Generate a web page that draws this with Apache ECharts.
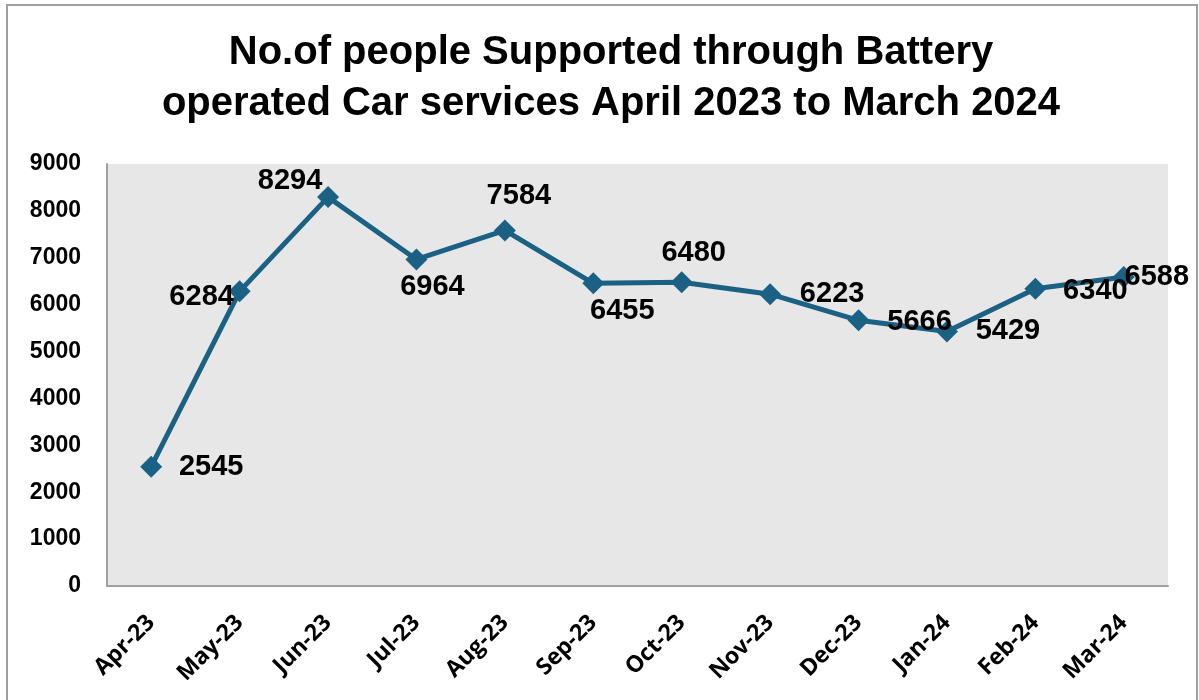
<!DOCTYPE html>
<html>
<head>
<meta charset="utf-8">
<title>Battery operated Car services</title>
<script src="https://cdn.jsdelivr.net/npm/echarts@6/dist/echarts.min.js"></script>
<style>
  html, body { margin: 0; padding: 0; background: #ffffff; }
  #chart { width: 1199px; height: 700px; }
</style>
</head>
<body>
<div id="chart"></div>
<script>
// Monthly counts of people supported by the battery operated car service
const months = ['Apr-23', 'May-23', 'Jun-23', 'Jul-23', 'Aug-23', 'Sep-23',
                'Oct-23', 'Nov-23', 'Dec-23', 'Jan-24', 'Feb-24', 'Mar-24'];
const peopleSupported = [2545, 6284, 8294, 6964, 7584, 6455, 6480, 6223, 5666, 5429, 6340, 6588];
const titleLines = ['No.of people Supported through Battery',
                    'operated Car services April 2023 to March 2024'];
const yAxisMin = 0;
const yAxisMax = 9000;
const yAxisStep = 1000;

// Where each value label sits relative to its marker (px)
const labelShift = [[60, 0], [-38, 6], [-38, -16], [16, 28], [14, -34], [29, 28],
                    [12, -29], [62, 0], [61, 2], [61, 0], [60, 2], [33, 0]];

const lineColor = '#1a6184';

const chart = echarts.init(document.getElementById('chart'), null, { renderer: 'canvas' });

chart.setOption({
  backgroundColor: '#ffffff',
  animation: false,
  title: {
    text: titleLines.join('\n'),
    left: 606,
    textAlign: 'center',
    top: 22,
    textStyle: {
      fontFamily: 'Liberation Sans, Arial, sans-serif',
      fontWeight: 'bold',
      fontSize: 40,
      lineHeight: 51,
      color: '#000000'
    }
  },
  graphic: [{
    type: 'rect',
    shape: { x: 7, y: 5, width: 1190, height: 720 },
    style: { fill: 'none', stroke: '#a0a0a0', lineWidth: 2 },
    silent: true,
    z: 0
  }],
  grid: {
    left: 107,
    right: 31,
    top: 164,
    bottom: 114,
    show: true,
    backgroundColor: '#e7e7e7',
    borderWidth: 0
  },
  xAxis: {
    type: 'category',
    data: months,
    boundaryGap: true,
    axisLine: { show: true, lineStyle: { color: '#a0a0a0', width: 2 } },
    axisTick: { show: false },
    axisLabel: {
      rotate: 45,
      margin: 33,
      interval: 0,
      color: '#000000',
      fontFamily: 'Open Sans, sans-serif',
      fontWeight: 'bold',
      fontSize: 23
    },
    splitLine: { show: false }
  },
  yAxis: {
    type: 'value',
    min: yAxisMin,
    max: yAxisMax,
    interval: yAxisStep,
    axisLine: { show: true, lineStyle: { color: '#a0a0a0', width: 2 } },
    axisTick: { show: false },
    splitLine: { show: false },
    axisLabel: {
      margin: 26,
      formatter: v => String(v),
      color: '#000000',
      fontFamily: 'Liberation Sans, Arial, sans-serif',
      fontWeight: 'bold',
      fontSize: 23
    }
  },
  series: [{
    type: 'line',
    data: peopleSupported,
    symbol: 'diamond',
    symbolSize: 22,
    showAllSymbol: true,
    lineStyle: { color: lineColor, width: 5 },
    itemStyle: { color: lineColor },
    label: {
      show: true,
      position: 'inside',
      color: '#000000',
      fontFamily: 'Liberation Sans, Arial, sans-serif',
      fontWeight: 'bold',
      fontSize: 29
    },
    labelLayout: params => ({
      dx: labelShift[params.dataIndex][0],
      dy: labelShift[params.dataIndex][1],
      hideOverlap: false
    }),
    z: 3
  }]
});
</script>
</body>
</html>
